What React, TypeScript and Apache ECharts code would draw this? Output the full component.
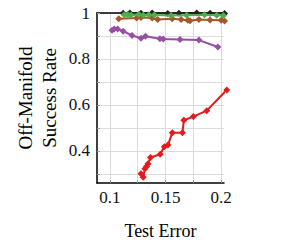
import React, { useEffect, useRef } from "react";
import * as echarts from "echarts";

const redX = [0.128, 0.130, 0.1315, 0.133, 0.1343, 0.1365, 0.1452, 0.1489, 0.1522, 0.1561, 0.1652, 0.1665, 0.175, 0.187, 0.205];
const redY = [0.300, 0.285, 0.322, 0.332, 0.344, 0.371, 0.385, 0.418, 0.425, 0.479, 0.479, 0.533, 0.549, 0.575, 0.665];

const purpleX = [0.102, 0.104, 0.107, 0.112, 0.120, 0.128, 0.132, 0.145, 0.148, 0.163, 0.180, 0.197];
const purpleY = [0.925, 0.930, 0.930, 0.921, 0.902, 0.890, 0.899, 0.888, 0.887, 0.885, 0.882, 0.852];

const brownX = [0.108, 0.124, 0.128, 0.138, 0.143, 0.156, 0.164, 0.170, 0.172, 0.180, 0.190, 0.200, 0.203];
const brownY = [0.975, 0.978, 0.980, 0.978, 0.972, 0.975, 0.972, 0.968, 0.966, 0.972, 0.970, 0.968, 0.965];

const greenX = [0.113, 0.116, 0.119, 0.126, 0.130, 0.135, 0.140, 0.155, 0.169, 0.185, 0.196, 0.202];
const greenY = [0.992, 0.994, 0.991, 0.993, 0.990, 0.992, 0.991, 0.989, 0.990, 0.992, 0.990, 0.989];

const blackX = [0.112, 0.118, 0.128, 0.138, 0.152, 0.162, 0.178, 0.190, 0.203];
const blackY = [0.999, 1.000, 0.999, 1.000, 0.998, 0.999, 1.000, 0.999, 0.998];

const xTickLabels = [0.1, 0.15, 0.2];
const xTicks = [0.1, 0.125, 0.15, 0.175, 0.2];
const yTickLabels = [0.4, 0.6, 0.8, 1];
const yTicks = [0.3, 0.4, 0.5, 0.6, 0.7, 0.8, 0.9, 1.0];

const zip = (xs: number[], ys: number[]) => xs.map((x, i) => [x, ys[i]]);

const font = "'Liberation Serif', 'DejaVu Serif', serif";

export default function App() {
  const ref = useRef<HTMLDivElement>(null);
  useEffect(() => {
    if (!ref.current) return;
    const chart = echarts.init(ref.current, null, { renderer: "svg" });
    const mk = (name: string, color: string, xs: number[], ys: number[], z: number) => ({
      name,
      type: "line",
      data: zip(xs, ys),
      symbol: "diamond",
      symbolSize: 7,
      lineStyle: { color, width: 2 },
      itemStyle: { color },
      clip: false,
      z,
    });
    chart.setOption({
      animation: false,
      grid: { left: 97, top: 13, right: 76, bottom: 68 },
      xAxis: [
        {
          type: "value",
          min: 0.0885,
          max: 0.2025,
          name: "Test Error",
          nameLocation: "middle",
          nameGap: 39,
          nameTextStyle: { fontFamily: font, fontSize: 18, color: "#000" },
          axisLine: { lineStyle: { color: "#000", width: 1.5 } },
          axisTick: { customValues: xTicks, inside: true, length: 3, lineStyle: { color: "#999" } },
          axisLabel: {
            customValues: xTickLabels,
            fontFamily: font,
            fontSize: 17,
            color: "#111",
            margin: 6,
            formatter: (v: number) => String(v),
          },
          splitLine: { show: true, lineStyle: { color: "#dcdcdc", width: 1 } },
        },
        {
          type: "value",
          position: "top",
          min: 0.0885,
          max: 0.2025,
          axisLine: { show: true, onZero: false, lineStyle: { color: "#000", width: 1.5 } },
          axisTick: { show: false },
          axisLabel: { show: false },
          splitLine: { show: false },
        },
      ],
      yAxis: {
        type: "value",
        min: 0.26,
        max: 1,
        name: "Off-Manifold\nSuccess Rate",
        nameLocation: "middle",
        nameGap: 36,
        nameTextStyle: { fontFamily: font, fontSize: 19, color: "#000", lineHeight: 24 },
        axisLine: { show: true, lineStyle: { color: "#000", width: 1.5 } },
        axisTick: { customValues: yTicks, inside: true, length: 3, lineStyle: { color: "#999" } },
        axisLabel: {
          customValues: yTickLabels,
          fontFamily: font,
          fontSize: 17,
          color: "#111",
          margin: 7,
          formatter: (v: number) => String(v),
        },
        splitLine: { show: true, lineStyle: { color: "#dcdcdc", width: 1 } },
      },
      series: [
        mk("red", "#e41a1c", redX, redY, 3),
        mk("purple", "#984ea3", purpleX, purpleY, 3),
        mk("brown", "#a65628", brownX, brownY, 3),
        mk("black", "#222222", blackX, blackY, 3),
        mk("green", "#4daf4a", greenX, greenY, 4),
      ],
    });
    return () => chart.dispose();
  }, []);
  return <div ref={ref} style={{ width: 300, height: 251, margin: -8 }} />;
}
